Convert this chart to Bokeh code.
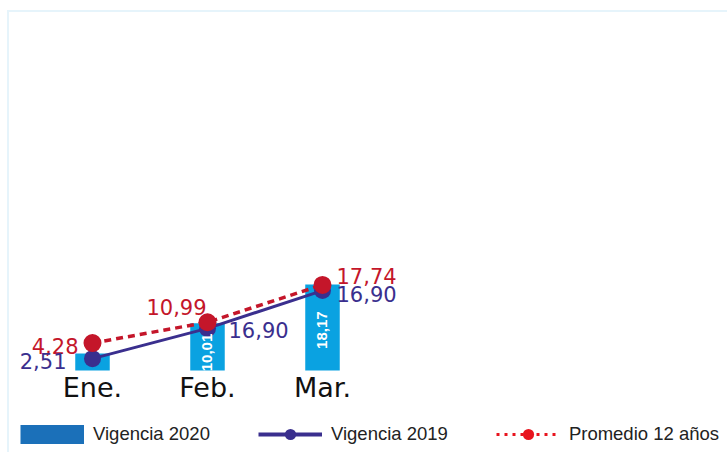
import math
from bokeh.plotting import figure
from bokeh.models import (ColumnDataSource, Range1d, Legend, LegendItem)
from bokeh.core.properties import value
from bokeh.embed import file_html
from bokeh.resources import INLINE

# ---- data ----
months = ["Ene.", "Feb.", "Mar."]
vig2020 = [3.6, 10.01, 18.17]
vig2020_labels = ["", "10,01", "18,17"]
vig2019 = [2.51, 8.9, 16.9]
vig2019_labels = ["2,51", "16,90", "16,90"]
prom12 = [5.8, 10.2, 18.1]
prom12_labels = ["4,28", "10,99", "17,74"]

# ---- styles ----
BAR_COLOR = "#0AA2E1"
BAR_LEG_COLOR = "#1B70B9"
BLUE = "#3A2F8E"
RED = "#C4162A"
RED_LEG = "#E8141E"
VAL_FONT = "DejaVu Sans"
BAR_LABEL_FRAC = [0.45, 0.38, 0.47]   # where along each bar its label sits

idx = list(range(len(months)))

p = figure(frame_width=718, frame_height=440, output_backend="svg",
           toolbar_location=None, x_range=Range1d(-0.7217, 5.5217),
           y_range=Range1d(-17.34, 75.7), min_border_left=0, min_border_right=0,
           min_border_top=0, min_border_bottom=0)
p.outline_line_color = None
p.xgrid.visible = False
p.ygrid.visible = False
p.xaxis.visible = False
p.yaxis.visible = False
p.background_fill_color = "white"
p.border_fill_color = "white"
p.styles = {"margin-left": "7px", "margin-top": "10px",
            "border-left": "2px solid #E6F4FB", "border-top": "2px solid #E6F4FB"}

src = ColumnDataSource(dict(x=idx, base=[0] * len(idx), month=months,
                            bar=vig2020,
                            bar_mid=[v * f for v, f in zip(vig2020, BAR_LABEL_FRAC)],
                            bar_lab=vig2020_labels, v19=vig2019, p12=prom12))

# category labels, placed under the baseline through the data scales
p.text(x="x", y="base", text="month", source=src, y_offset=17,
       text_color="#111111", text_font=value("DejaVu Sans"), text_font_size="27px",
       text_align="center", text_baseline="middle")

bars = p.vbar(x="x", top="bar", width=0.3, source=src, fill_color=BAR_COLOR,
              line_color=None)

l19 = p.line(x="x", y="v19", source=src, line_color=BLUE, line_width=3)
l12 = p.line(x="x", y="p12", source=src, line_color=RED, line_width=3.5,
             line_dash="7 5")
s19 = p.scatter(x="x", y="v19", source=src, size=17, fill_color=BLUE,
                line_color=None)
s12 = p.scatter(x="x", y="p12", source=src, size=18, fill_color=RED,
                line_color=None)

p.text(x="x", y="bar_mid", text="bar_lab", source=src, angle=math.pi / 2,
       text_color="white", text_font=value("Liberation Sans"), text_font_style="bold",
       text_font_size="15px", text_align="center", text_baseline="middle")

# per-label placement (screen px offsets)
red_pos = [("right", -14, 3), ("center", -31, -15), ("left", 14, -9)]
blue_pos = [("right", -26, 2), ("left", 21, 2), ("left", 14, 3)]
for i in idx:
    a, dx, dy = red_pos[i]
    p.text(x=[idx[i]], y=[prom12[i]], text=[prom12_labels[i]], x_offset=dx,
           y_offset=dy, text_color=RED, text_font=value(VAL_FONT),
           text_font_size="21px", text_align=a, text_baseline="middle")
    a, dx, dy = blue_pos[i]
    p.text(x=[idx[i]], y=[vig2019[i]], text=[vig2019_labels[i]], x_offset=dx,
           y_offset=dy, text_color=BLUE, text_font=value(VAL_FONT),
           text_font_size="21px", text_align=a, text_baseline="middle")

# legend-only glyphs (a single non-drawn NaN row)
nan = float("nan")
leg_src = ColumnDataSource(dict(x=[nan], y=[nan]))
leg_bar = p.line(x="x", y="y", source=leg_src, line_color=BAR_LEG_COLOR,
                 line_width=19, line_cap="butt")
leg_l19 = p.line(x="x", y="y", source=leg_src, line_color=BLUE, line_width=4)
leg_s19 = p.scatter(x="x", y="y", source=leg_src, size=12, fill_color=BLUE,
                    line_color=None)
leg_l12 = p.line(x="x", y="y", source=leg_src, line_color=RED_LEG, line_width=3,
                 line_dash="3 5")
leg_s12 = p.scatter(x="x", y="y", source=leg_src, size=12, fill_color=RED_LEG,
                    line_color=None)

legend = Legend(items=[
    LegendItem(label="Vigencia 2020", renderers=[leg_bar]),
    LegendItem(label="Vigencia 2019", renderers=[leg_l19, leg_s19]),
    LegendItem(label="Promedio 12 años", renderers=[leg_l12, leg_s12]),
], orientation="horizontal", location=(11, 4))
legend.glyph_width = 64
legend.glyph_height = 28
legend.label_standoff = 9
legend.spacing = 48
legend.padding = 0
legend.margin = 0
legend.border_line_color = None
legend.background_fill_alpha = 0
legend.label_text_font = "Liberation Sans"
legend.label_text_font_size = "18.5px"
legend.label_text_color = "#222222"
legend.label_height = 18
p.add_layout(legend, "center")

open("out.html", "w").write(file_html(p, INLINE))
